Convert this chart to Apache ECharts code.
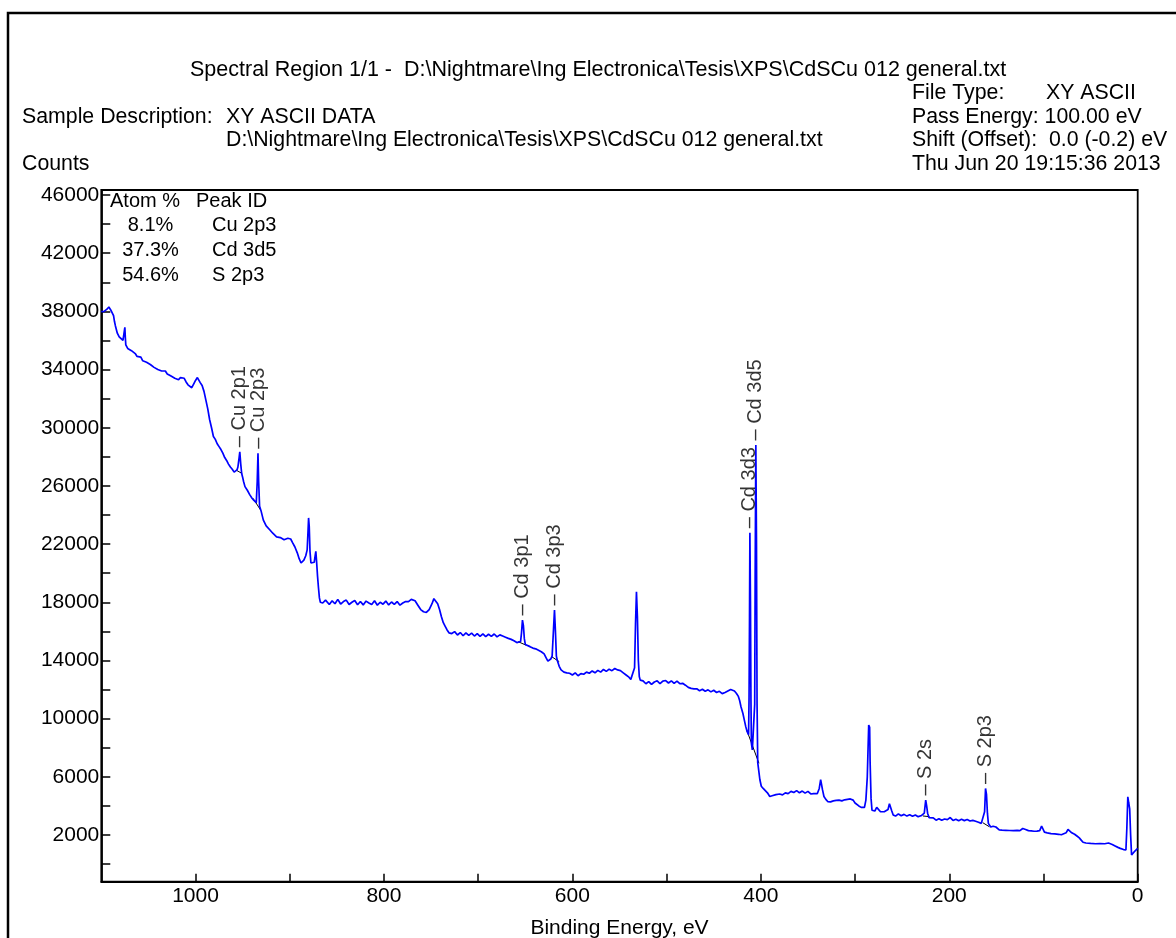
<!DOCTYPE html>
<html>
<head>
<meta charset="utf-8">
<script src="https://cdn.jsdelivr.net/npm/echarts@6/dist/echarts.min.js"></script>
<style>
html,body{margin:0;padding:0;background:#fff;}
#chart{width:1176px;height:938px;}
</style>
</head>
<body>
<div id="chart"></div>
<script>
// ---------- data ----------
const bindingEnergy = [
1100,1097,1094,1092,1090,1088,1087,1086,1085,1083,1081,1079,1077,1075.5,1075,1074.5,1074,1072,1070,1068,1066,1064,1062,1060,1058,1056,1054,1052,1050,1048,1046,1044,1042,1040,1038,1036,1034,1032,1030,1028,1026,1024,1022,1020,1018,1016,1014,1012,1010,1008,1006,1004,1002,1000,998,997,995,993,991,989,987,985,983,981,979,977,975,973,971,969,967,965,963,961,959,957.5,956,955,954,953,952,951,950,949,947.5,945,942.5,940,938,935.5,934.5,933.7,933,932,930.5,928,925,921,918,914,910,906,902,899,897,894.5,892,890,888,886.5,885,883,881.5,880.5,880,879.3,878.5,877.5,876,874,873,872.3,871.5,870.5,869.5,868.5,867.5,865,
862,858,855,852,849,846,843,840,837,834,831,828,825,822,819,816,813,810,807,804,801,798,795,792,789,786,783,780,777,774,771,769,767,764,761,758,755,752,749,747,746,745,743,741,739,737,735,733,731,728,725,722,719,716,713,710,707,704,701,698,695,692,689,686,683,680,677,674,671,668,665,662,659,657,655,654,653,652,651,650,648,645,642,639,636,633,630,628,626,624.5,623,621.5,620,619,618,617,616,614,612,609,606,603,600,597,594,591,588,585,582,579,576,573,570,567,564,561,558,555,552,549,546,543,540,538,536,534,533,532,531,530,529,528,525,522,519,516,513,510,507,504,501,498,495,492,489,486,483,480,477,474,471,468,465,462,459,456,453,450,447,444,441,438,435,432,430,428,426,424,422.5,421,419,417.5,416,414.5,413,412.5,412,411.6,411,410.5,410,409,407,406.5,406,405.3,404.6,404,403.3,402.5,401,399.5,397.5,395.5,393,390.5,388,386,384,382,380,377,374,371,368,365,362,359,356,353,350,347,344,342,340,338,336.5,335.5,334.5,333,331,329,326,323,320,317,314,311,308,305,302,300,298,296,293.5,291.5,290,288.5,287,285.5,284.5,284,283,282,281,279,277,275.5,273,271,269,267,265,263.5,262.5,261,259.5,257,254,251,248,245,242,239,236,233,230,228,226.5,225,224,223,221.5,220,217,214,211,208,205,202,199,196,193,190,187,184,181,178,175,172,169,166,164,162.5,161.5,160.5,159.5,158.5,157.5,156,155,153.5,152,150.5,149,147,144,140,136,132,128,125,122,120.5,119,116,113,110,107,104,102,100.5,99,96,92,88,84,81,79,76,74,72.5,70,67,64.5,62,60,58,55,50,45,40,35,31,29.5,27,24,21,18.5,15,12.5,11.5,10.5,9.5,8.5,7.5,6.5,5,3,0
];
const counts = [
37980,38000,38150,38300,38100,38050,37700,37300,37000,36500,36250,36150,36000,35900,36900,36200,35700,35450,35550,35300,35250,35100,34900,34800,34850,34600,34650,34500,34450,34350,34300,34150,34100,34000,34050,33900,33800,33900,33700,33650,33550,33600,33400,33450,33300,33450,33350,33400,33150,32950,32850,32750,33000,33250,33450,33350,33100,32900,32500,31900,31300,30550,30000,29400,29200,28900,28700,28500,28250,27950,27750,27500,27300,27150,26950,26900,27100,27300,27800,28350,27500,26850,26600,26300,25950,25700,25400,25150,25000,24850,26300,28240,26300,24600,24300,23650,23250,22970,22750,22500,22450,22300,22400,22350,22100,21800,21400,21000,20700,20700,20900,21200,21600,23000,23800,23200,21500,20700,20600,20750,21200,21500,20800,19800,19000,18300,18000,17950,
18150,17850,18100,17900,18200,17880,18050,18150,17850,18000,18120,17830,18050,17820,18080,17950,17850,18100,17800,18000,17870,18080,17820,18020,17850,18050,17800,17950,18050,18050,18200,18250,18100,17800,17500,17350,17300,17500,17900,18250,18380,18200,17900,17500,17000,16600,16350,16100,15900,15850,15980,15750,15920,15700,15900,15730,15880,15680,15850,15650,15830,15640,15800,15660,15820,15620,15760,15680,15600,15520,15450,15350,15230,15150,15300,15900,16780,16400,15500,15100,15050,14950,14850,14800,14700,14600,14450,14200,13950,13900,14100,14300,16200,17470,16000,14300,14000,13600,13350,13200,13150,13120,13000,13150,12950,13100,13050,13200,13120,13280,13150,13320,13200,13380,13250,13400,13300,13450,13350,13300,13150,13000,12850,12700,12650,13500,16500,18730,17000,14000,12900,12650,12600,12400,12550,12350,12520,12600,12400,12580,12620,12450,12600,12420,12580,12400,12430,12300,12150,12080,12050,12050,11920,12020,11880,11980,11840,11950,11800,11880,11720,11800,11900,12000,11980,11900,11750,11550,11250,10800,10350,9900,9450,9100,8900,11400,17000,22780,18000,11400,8300,7850,7800,11000,20000,28810,22000,11000,7000,6900,5800,5350,5200,5100,4900,4650,4700,4580,4780,4650,4820,4760,4900,4850,5000,4920,5050,4900,5020,4880,5000,4820,4850,4750,4850,5200,5800,5700,5100,4650,4450,4300,4280,4350,4380,4400,4350,4420,4450,4480,4400,4200,4100,4000,3900,3850,3900,4400,6000,9560,9400,7000,4500,3700,3600,3650,3900,3850,3600,3500,3600,3700,3750,4150,4050,3650,3380,3300,3450,3330,3420,3300,3400,3290,3380,3260,3320,3270,3500,4400,4000,3500,3200,3150,3180,3020,3120,3010,3100,3060,3200,3000,3090,2980,3080,2990,3070,2960,3010,2950,2880,2800,2680,3600,5200,4800,3500,2800,2700,2550,2450,2600,2700,2550,2450,2350,2330,2320,2310,2300,2320,2300,2450,2530,2380,2300,2290,2260,2270,2300,2620,2500,2200,2150,2100,2080,2050,2020,2000,2150,2380,2300,2150,2050,1930,1800,1650,1500,1450,1420,1400,1410,1400,1450,1400,1350,1250,1150,1080,1000,970,2500,4630,4200,3800,2000,620,700,900,1080
];
// fitted backgrounds under the identified peaks (null = gap)
const bgEnergy = [957,951,950, 939,931,930, 657.5,649.5,649, 622,614,613, 415,402,401, 228,221,220, 164.5,157.5,157];
const bgCounts = [27090,26870,null, 25150,24350,null, 15290,15060,null, 14260,13920,null, 9220,6930,null, 3310,3260,null, 2850,2570,null];

const peakNames  = ['Cu 2p1','Cu 2p3','Cd 3p1','Cd 3p3','Cd 3d3','Cd 3d5','S 2s','S 2p3'];
const peakEnergy = [953, 933.7, 653, 619, 411.6, 405.3, 225, 161.5];
const peakCounts = [28350, 28240, 16780, 17470, 22780, 28810, 4400, 5200];

const atomPercent = ['8.1%','37.3%','54.6%'];
const atomPeakIds = ['Cu 2p3','Cd 3d5','S 2p3'];

const xLabelTicks = [0,200,400,600,800,1000];
const xAllTicks = [0,100,200,300,400,500,600,700,800,900,1000];
const yLabelTicks = [2000,6000,10000,14000,18000,22000,26000,30000,34000,38000,42000,46000];
const yAllTicks = [0,2000,4000,6000,8000,10000,12000,14000,16000,18000,20000,22000,24000,26000,28000,30000,32000,34000,36000,38000,40000,42000,44000,46000];

const headerTitle = 'Spectral Region 1/1 -  D:\\Nightmare\\Ing Electronica\\Tesis\\XPS\\CdSCu 012 general.txt';
const filePath = 'D:\\Nightmare\\Ing Electronica\\Tesis\\XPS\\CdSCu 012 general.txt';

// ---------- chart ----------
const FONT = '"Liberation Sans", Arial, sans-serif';
const spectrum = bindingEnergy.map((e, i) => [e, counts[i]]);
const background = bgEnergy.map((e, i) => [e, bgCounts[i] === null ? '-' : bgCounts[i]]);

function txt(x, y, text, size, align) {
  return { type: 'text', x: x, y: y, silent: true,
    style: { text: text, fill: '#000', font: size + 'px ' + FONT, align: align || 'left', verticalAlign: 'middle' } };
}

const HS = 21.3;
const graphics = [
  { type: 'rect', silent: true, shape: { x: 8, y: 13, width: 1300, height: 1000 },
    style: { fill: 'none', stroke: '#000', lineWidth: 2.5 } },
  txt(190, 70, headerTitle, 21.5),
  txt(912, 93, 'File Type:', HS),
  txt(1046, 93, 'XY ASCII', HS),
  txt(22, 117, 'Sample Description:', HS),
  txt(226, 117, 'XY ASCII DATA', HS),
  txt(912, 117, 'Pass Energy: 100.00 eV', HS),
  txt(226, 140, filePath, HS),
  txt(912, 140, 'Shift (Offset):  0.0 (-0.2) eV', HS),
  txt(22, 164, 'Counts', HS),
  txt(912, 164, 'Thu Jun 20 19:15:36 2013', HS),
  txt(110, 201, 'Atom %', 20),
  txt(196, 201, 'Peak ID', 20)
];
atomPercent.forEach((p, i) => {
  graphics.push(txt(150.5, 225.5 + i * 25, p, 20, 'center'));
  graphics.push(txt(212, 225.5 + i * 25, atomPeakIds[i], 20));
});

const axisLineStyle = { color: '#000', width: 1.8 };
const tickStyle = { color: '#000', width: 1.5 };

const option = {
  animation: false,
  backgroundColor: '#fff',
  textStyle: { fontFamily: FONT },
  grid: { left: 101.3, right: 38.3, top: 190, bottom: 56.3, outerBoundsMode: 'none', containLabel: false,
    show: true, borderColor: '#000', borderWidth: 1.8, backgroundColor: 'transparent' },
  graphic: graphics,
  xAxis: {
    type: 'value', min: 0, max: 1100, inverse: true, position: 'bottom',
    name: 'Binding Energy, eV', nameLocation: 'middle', nameGap: 36,
    nameTextStyle: { fontSize: 21, color: '#000', fontFamily: FONT },
    axisLine: { show: true, onZero: false, lineStyle: axisLineStyle },
    axisTick: { show: true, inside: true, length: 8, lineStyle: tickStyle, customValues: xAllTicks },
    axisLabel: { show: true, customValues: xLabelTicks, fontSize: 21, color: '#000', margin: 4, fontFamily: FONT,
      formatter: v => String(v) },
    splitLine: { show: false }
  },
  yAxis: {
    type: 'value', min: -1210, max: 46344, position: 'left',
    axisLine: { show: true, onZero: false, lineStyle: axisLineStyle },
    axisTick: { show: true, inside: true, length: 9, lineStyle: tickStyle, customValues: yAllTicks },
    axisLabel: { show: true, customValues: yLabelTicks, fontSize: 21, color: '#000', margin: 2, fontFamily: FONT,
      formatter: v => String(v) },
    splitLine: { show: false }
  },
  series: [
    { type: 'line', name: 'background', data: background, showSymbol: false, connectNulls: false,
      lineStyle: { color: '#000', width: 1 }, silent: true, z: 2 },
    { type: 'line', name: 'spectrum', data: spectrum, showSymbol: false,
      lineStyle: { color: '#0000ff', width: 1.7 }, silent: true, z: 3 },
    { type: 'scatter', name: 'peaks', silent: true, z: 4,
      data: peakNames.map((n, i) => ({ name: n, value: [peakEnergy[i], peakCounts[i]] })),
      symbol: 'circle', symbolSize: 1, itemStyle: { color: 'rgba(0,0,0,0)' },
      label: { show: true, position: 'top', distance: 4, rotate: 90, align: 'left', verticalAlign: 'middle',
        formatter: p => '\u2013 ' + p.name, fontSize: 20, color: '#000', fontFamily: FONT } }
  ]
};

const chart = echarts.init(document.getElementById('chart'));
chart.setOption(option);
</script>
</body>
</html>
